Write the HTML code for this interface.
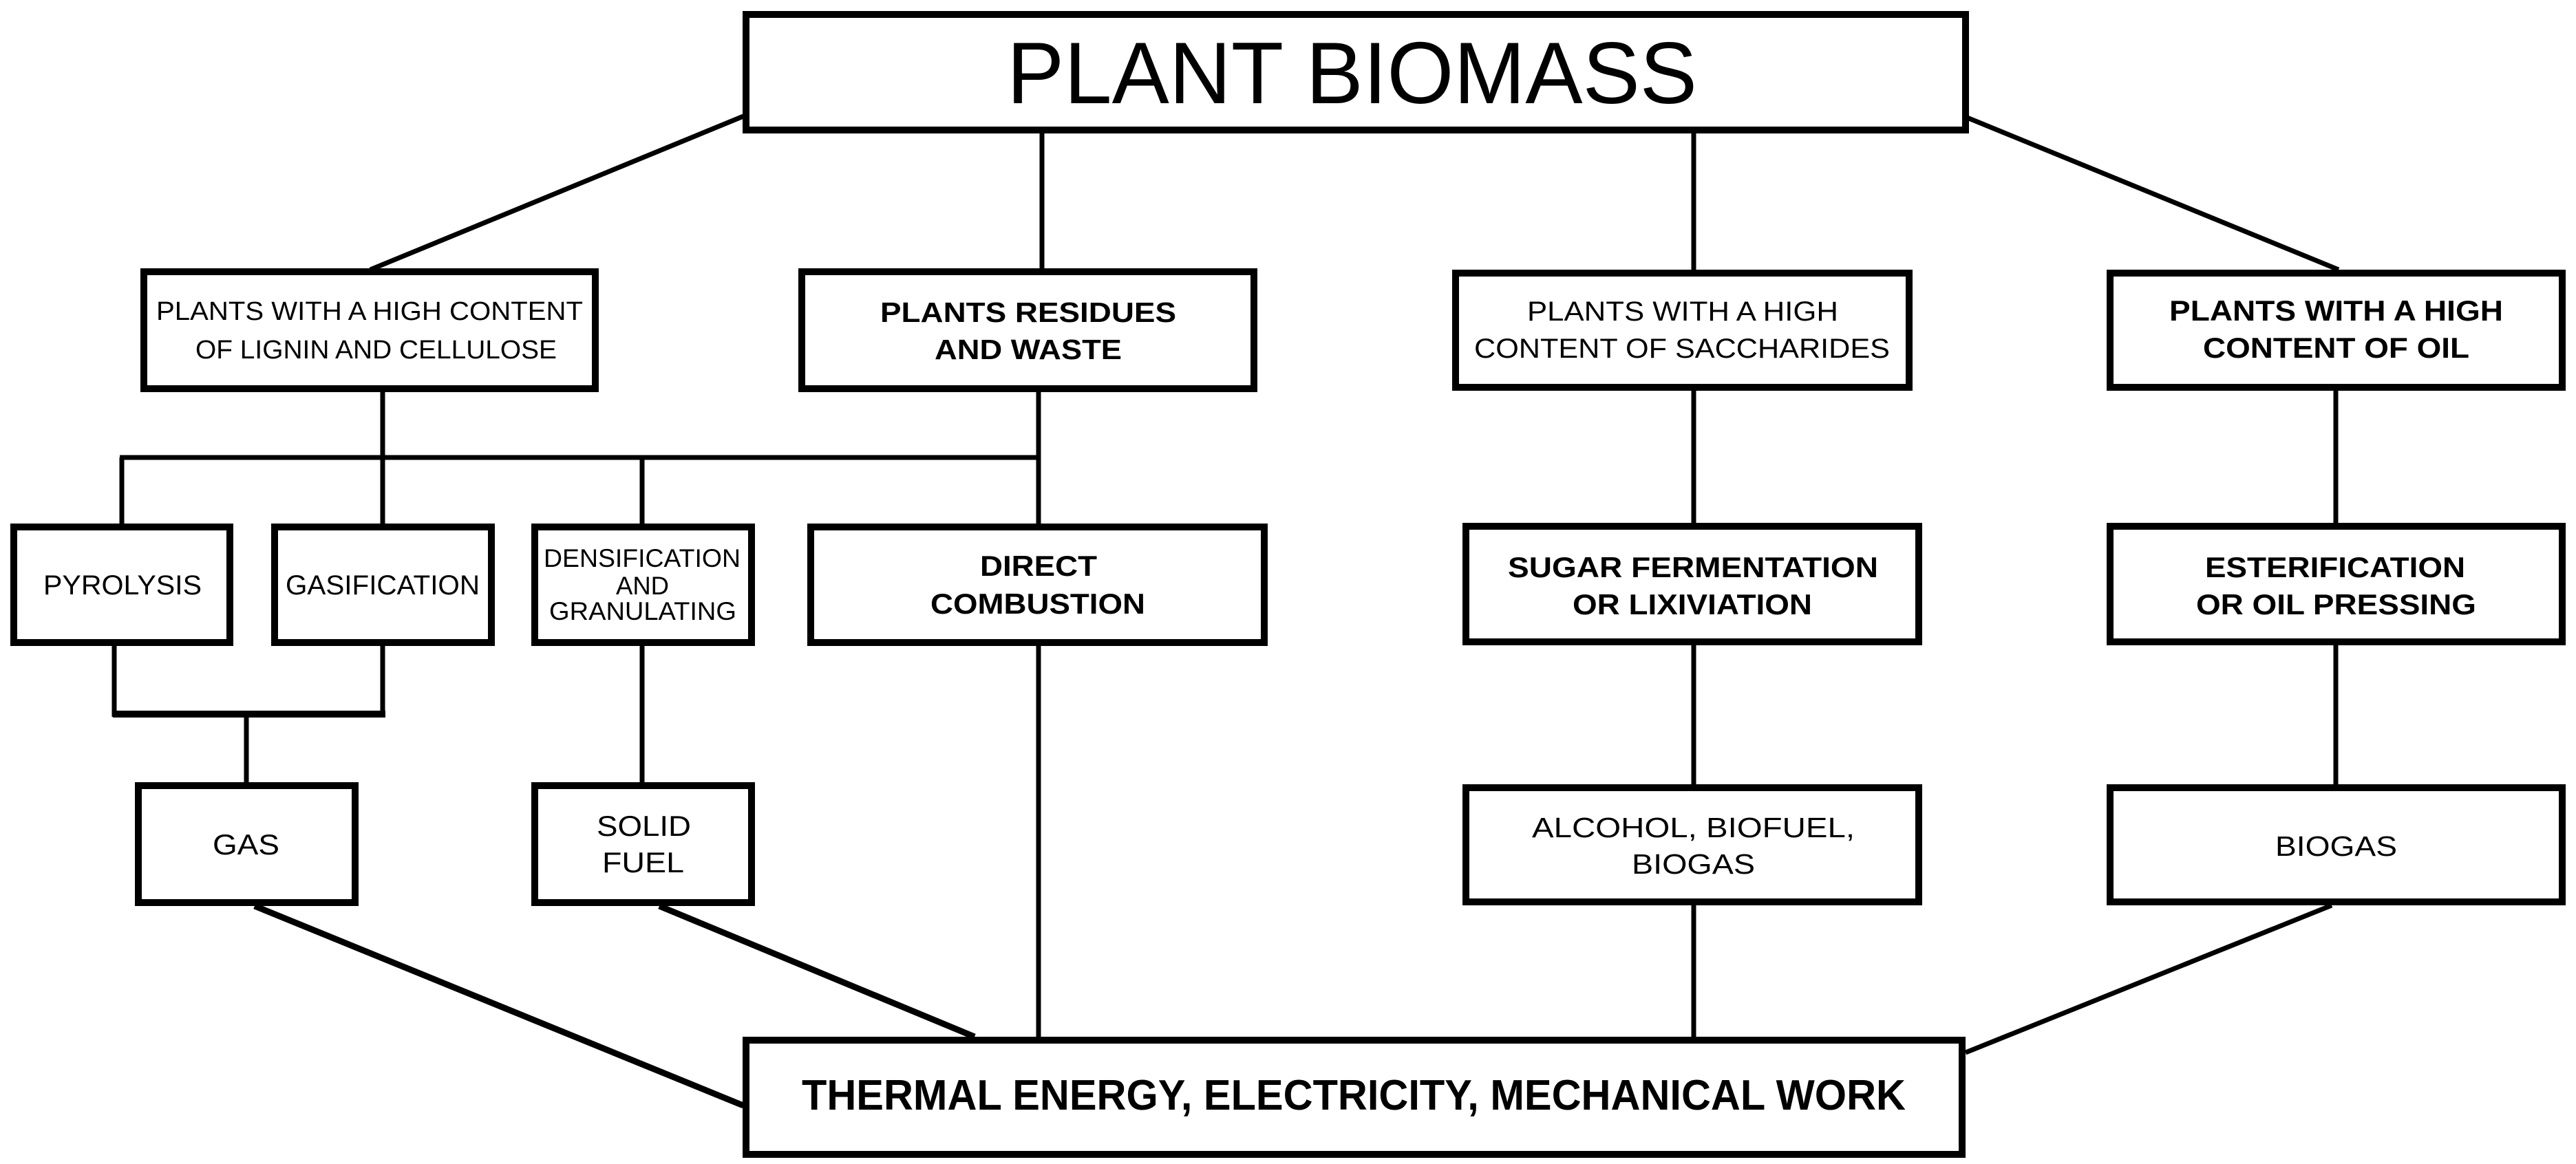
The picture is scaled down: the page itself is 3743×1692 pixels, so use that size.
<!DOCTYPE html>
<html><head><meta charset="utf-8"><style>html,body{margin:0;padding:0;background:#fff}svg{display:block}</style></head>
<body>
<svg width="3743" height="1692" viewBox="0 0 3743 1692" xmlns="http://www.w3.org/2000/svg" font-family="Liberation Sans, sans-serif" fill="#000">
<g stroke="#000" stroke-width="7" fill="none">
<!-- top connectors -->
<line x1="1080" y1="169" x2="538" y2="392"/>
<line x1="1514" y1="192" x2="1514" y2="392"/>
<line x1="2461" y1="192" x2="2461" y2="392"/>
<line x1="2856" y1="170" x2="3398" y2="392"/>
<!-- row2 to row3 -->
<line x1="556" y1="568" x2="556" y2="665"/>
<line x1="1509" y1="568" x2="1509" y2="762"/>
<line x1="174" y1="665" x2="1512" y2="665"/>
<line x1="177" y1="665" x2="177" y2="762"/>
<line x1="556" y1="665" x2="556" y2="762"/>
<line x1="933" y1="665" x2="933" y2="762"/>
<line x1="2461" y1="568" x2="2461" y2="762"/>
<line x1="3394" y1="568" x2="3394" y2="762"/>
<!-- row3 to row4 -->
<line x1="166" y1="938" x2="166" y2="1042"/>
<line x1="556" y1="938" x2="556" y2="1042"/>
<line x1="358" y1="1038" x2="358" y2="1138"/>
<line x1="933" y1="938" x2="933" y2="1138"/>
<line x1="1509" y1="938" x2="1509" y2="1508"/>
<line x1="2461" y1="938" x2="2461" y2="1140"/>
<line x1="3394" y1="938" x2="3394" y2="1140"/>
<!-- row4 to bottom -->
<line x1="2461" y1="1316" x2="2461" y2="1508"/>
<line x1="370" y1="1317" x2="1080" y2="1607" stroke-width="9"/>
<line x1="958" y1="1317" x2="1416" y2="1507" stroke-width="9"/>
<line x1="3388" y1="1316" x2="2856" y2="1530"/>
</g>
<line x1="164" y1="1038" x2="560" y2="1038" stroke="#000" stroke-width="10"/>
<g stroke="#000" stroke-width="10" fill="#fff">
<rect x="1084" y="21" width="1772" height="168"/>
<rect x="209" y="395" width="656" height="170"/>
<rect x="1165" y="395" width="657" height="170"/>
<rect x="2115" y="397" width="659" height="166"/>
<rect x="3066" y="397" width="657" height="166"/>
<rect x="20" y="766" width="314" height="168"/>
<rect x="399" y="766" width="315" height="168"/>
<rect x="777" y="766" width="315" height="168"/>
<rect x="1178" y="766" width="659" height="168"/>
<rect x="2130" y="765" width="658" height="168"/>
<rect x="3066" y="765" width="657" height="168"/>
<rect x="201" y="1142" width="315" height="170"/>
<rect x="777" y="1142" width="315" height="170"/>
<rect x="2130" y="1145" width="658" height="166"/>
<rect x="3066" y="1145" width="657" height="166"/>
<rect x="1084" y="1512" width="1767" height="166"/>
</g>
<g lengthAdjust="spacingAndGlyphs">
<text x="1463" y="150" font-size="127" textLength="1003" lengthAdjust="spacingAndGlyphs">PLANT BIOMASS</text>
<text x="227" y="465" font-size="38" textLength="620" lengthAdjust="spacingAndGlyphs">PLANTS WITH A HIGH CONTENT</text>
<text x="284" y="521" font-size="38" textLength="525" lengthAdjust="spacingAndGlyphs">OF LIGNIN AND CELLULOSE</text>
<text x="1279" y="468" font-size="41" font-weight="bold" textLength="430" lengthAdjust="spacingAndGlyphs">PLANTS RESIDUES</text>
<text x="1358" y="522" font-size="41" font-weight="bold" textLength="272" lengthAdjust="spacingAndGlyphs">AND WASTE</text>
<text x="2219" y="466" font-size="40" textLength="452" lengthAdjust="spacingAndGlyphs">PLANTS WITH A HIGH</text>
<text x="2142" y="520" font-size="40" textLength="604" lengthAdjust="spacingAndGlyphs">CONTENT OF SACCHARIDES</text>
<text x="3152" y="466" font-size="42" font-weight="bold" textLength="485" lengthAdjust="spacingAndGlyphs">PLANTS WITH A HIGH</text>
<text x="3201" y="520" font-size="42" font-weight="bold" textLength="387" lengthAdjust="spacingAndGlyphs">CONTENT OF OIL</text>
<text x="63" y="864" font-size="40" textLength="230" lengthAdjust="spacingAndGlyphs">PYROLYSIS</text>
<text x="415" y="864" font-size="40" textLength="282" lengthAdjust="spacingAndGlyphs">GASIFICATION</text>
<text x="790" y="824" font-size="37" textLength="286" lengthAdjust="spacingAndGlyphs">DENSIFICATION</text>
<text x="895" y="864" font-size="37" textLength="77" lengthAdjust="spacingAndGlyphs">AND</text>
<text x="798" y="901" font-size="37" textLength="272" lengthAdjust="spacingAndGlyphs">GRANULATING</text>
<text x="1424" y="837" font-size="42" font-weight="bold" textLength="170" lengthAdjust="spacingAndGlyphs">DIRECT</text>
<text x="1352" y="892" font-size="42" font-weight="bold" textLength="312" lengthAdjust="spacingAndGlyphs">COMBUSTION</text>
<text x="2191" y="839" font-size="42" font-weight="bold" textLength="538" lengthAdjust="spacingAndGlyphs">SUGAR FERMENTATION</text>
<text x="2285" y="893" font-size="42" font-weight="bold" textLength="348" lengthAdjust="spacingAndGlyphs">OR LIXIVIATION</text>
<text x="3204" y="839" font-size="42" font-weight="bold" textLength="378" lengthAdjust="spacingAndGlyphs">ESTERIFICATION</text>
<text x="3191" y="893" font-size="42" font-weight="bold" textLength="407" lengthAdjust="spacingAndGlyphs">OR OIL PRESSING</text>
<text x="309" y="1242" font-size="42" textLength="97" lengthAdjust="spacingAndGlyphs">GAS</text>
<text x="867" y="1215" font-size="42" textLength="137" lengthAdjust="spacingAndGlyphs">SOLID</text>
<text x="875" y="1268" font-size="42" textLength="119" lengthAdjust="spacingAndGlyphs">FUEL</text>
<text x="2226" y="1217" font-size="41" textLength="469" lengthAdjust="spacingAndGlyphs">ALCOHOL, BIOFUEL,</text>
<text x="2371" y="1270" font-size="41" textLength="179" lengthAdjust="spacingAndGlyphs">BIOGAS</text>
<text x="3306" y="1244" font-size="41" textLength="177" lengthAdjust="spacingAndGlyphs">BIOGAS</text>
<text x="1165" y="1613" font-size="62" font-weight="bold" textLength="1604" lengthAdjust="spacingAndGlyphs">THERMAL ENERGY, ELECTRICITY, MECHANICAL WORK</text>
</g>
</svg>
</body></html>
